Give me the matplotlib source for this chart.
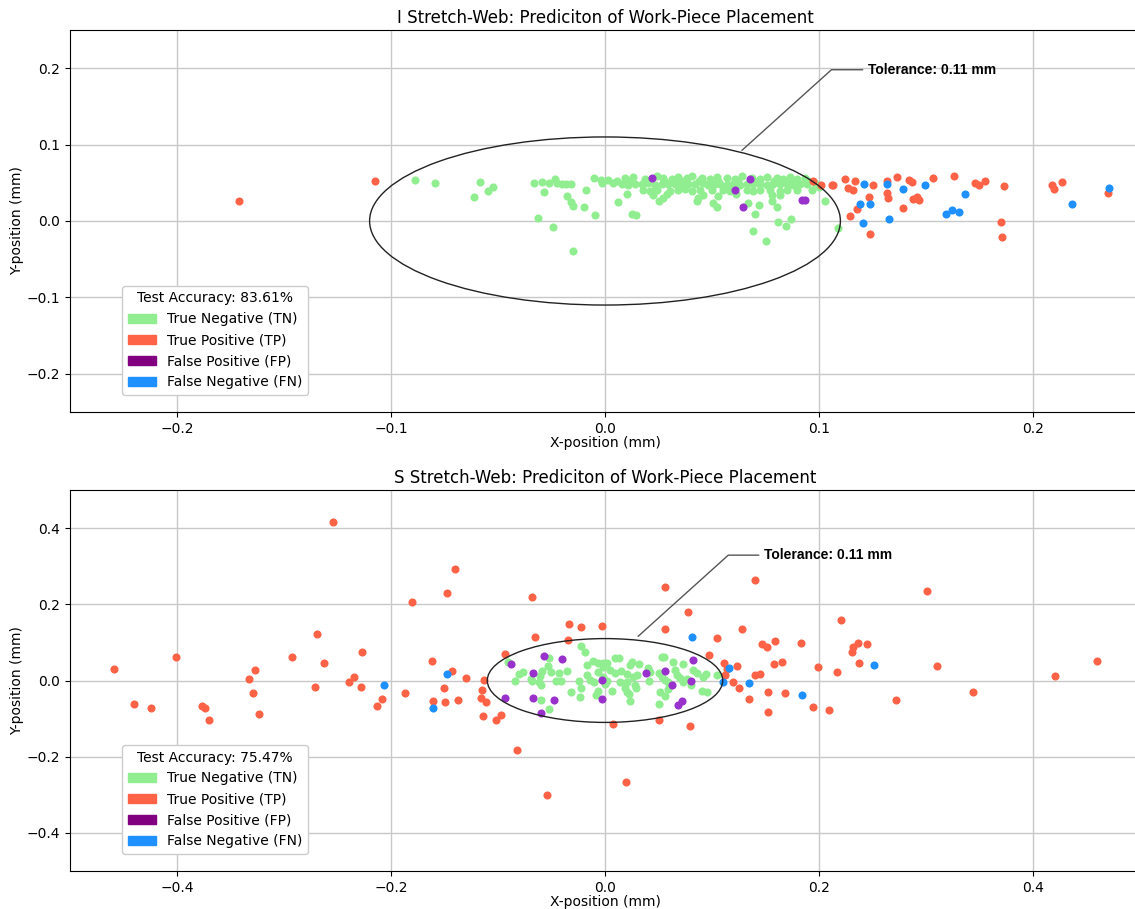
import matplotlib
matplotlib.use("Agg")
import matplotlib.pyplot as plt
from matplotlib.patches import Patch, Circle

# ---------------- I Stretch-Web ----------------
i_tn_x = [-0.0888, -0.0794, -0.0612, -0.0584, -0.0547, -0.0523, -0.0332, -0.0294, -0.0285, -0.0262,
          -0.0234, -0.0224, -0.0201, -0.0182, -0.0159, -0.0178, -0.0159, -0.0150, -0.0313, -0.0243,
          -0.0150, -0.0089, -0.0098, -0.0051, -0.0047, -0.0019, -0.0014, 0.0014, 0.0037, 0.0056,
          0.0061, 0.0103, 0.0126, 0.0145,
          0.0093, 0.0132, 0.0187, 0.0241, 0.0273, 0.0311, 0.0343, 0.0382, 0.0405, 0.0452,
          0.0491, 0.0522, 0.0569, 0.0608, 0.0639, 0.0685, 0.0724, 0.0755, 0.0802, 0.0833,
          0.0865, 0.0896, 0.0935,
          0.0078, 0.0109, 0.0140, 0.0171, 0.0202, 0.0234, 0.0265, 0.0296, 0.0327, 0.0358,
          0.0389, 0.0420, 0.0459, 0.0483, 0.0514, 0.0537, 0.0569, 0.0600, 0.0631, 0.0662,
          0.0693, 0.0724, 0.0755, 0.0787, 0.0818, 0.0849, 0.0880, 0.0911, 0.0942,
          0.0179, 0.0210, 0.0241, 0.0304, 0.0343, 0.0374, 0.0405, 0.0444, 0.0498, 0.0553,
          0.0584, 0.0662, 0.0693, 0.0724, 0.0771, 0.0818, 0.0849, 0.0896,
          0.0226, 0.0460, 0.0530, 0.0612, 0.0780, 0.0820,
          0.0110, 0.0190, 0.0280, 0.0360, 0.0440, 0.0530, 0.0620, 0.0700, 0.0790, 0.0870, 0.0950,
          0.0252, 0.0271, 0.0290, 0.0430, 0.0435, 0.0505, 0.0523, 0.0668, 0.0701, 0.0720,
          0.0692, 0.0752, 0.0780, 0.0804, 0.0808, 0.0846, 0.0869, 0.1028, 0.1089,
          0.0980, 0.1000, 0.0965]
i_tn_y = [0.0535, 0.0495, 0.0313, 0.0508, 0.0391, 0.0443, 0.0495, 0.0508, 0.0378, 0.0495,
          0.0548, 0.0495, 0.0482, 0.0482, 0.0482, 0.0326, 0.0248, 0.0196, 0.0039, -0.0078,
          -0.0391, 0.0404, 0.0183, 0.0561, 0.0078, 0.0535, 0.0495, 0.0535, 0.0495, 0.0522,
          0.0248, 0.0352, 0.0091, 0.0078,
          0.0565, 0.0578, 0.0552, 0.0583, 0.0560, 0.0548, 0.0575, 0.0557, 0.0590, 0.0562,
          0.0552, 0.0578, 0.0560, 0.0545, 0.0583, 0.0565, 0.0550, 0.0578, 0.0560, 0.0548,
          0.0570, 0.0555, 0.0562,
          0.0482, 0.0470, 0.0490, 0.0478, 0.0495, 0.0470, 0.0485, 0.0478, 0.0490, 0.0470,
          0.0485, 0.0478, 0.0492, 0.0470, 0.0482, 0.0490, 0.0475, 0.0485, 0.0470, 0.0490,
          0.0478, 0.0485, 0.0470, 0.0490, 0.0478, 0.0485, 0.0470, 0.0490, 0.0480,
          0.0404, 0.0390, 0.0412, 0.0398, 0.0404, 0.0415, 0.0395, 0.0408, 0.0400, 0.0412,
          0.0395, 0.0404, 0.0390, 0.0410, 0.0400, 0.0395, 0.0412, 0.0404,
          0.0340, 0.0345, 0.0330, 0.0350, 0.0335, 0.0342,
          0.0520, 0.0525, 0.0515, 0.0522, 0.0518, 0.0525, 0.0520, 0.0515, 0.0522, 0.0518, 0.0520,
          0.0261, 0.0300, 0.0352, 0.0261, 0.0300, 0.0235, 0.0183, 0.0235, 0.0091, 0.0209,
          -0.0130, -0.0261, 0.0261, 0.0183, -0.0013, -0.0065, 0.0026, 0.0261, -0.0091,
          0.0500, 0.0450, 0.0400]

i_tp_x = [-0.1710, -0.1075, 0.0972, 0.1009, 0.1061, 0.1065, 0.1121, 0.1168, 0.1136, 0.1159,
          0.1252, 0.1234, 0.1178, 0.1145, 0.1238, 0.1318, 0.1364, 0.1421, 0.1435, 0.1318,
          0.1322, 0.1393, 0.1439, 0.1458, 0.1467, 0.1533, 0.1631, 0.1729, 0.1748, 0.1776,
          0.1864, 0.1850, 0.1855, 0.2089, 0.2098, 0.2136, 0.2350]
i_tp_y = [0.0261, 0.0522, 0.0522, 0.0469, 0.0469, 0.0469, 0.0548, 0.0522, 0.0430, 0.0404,
          0.0469, 0.0313, 0.0156, 0.0065, -0.0169, 0.0522, 0.0574, 0.0535, 0.0508, 0.0365,
          0.0300, 0.0169, 0.0287, 0.0313, 0.0274, 0.0561, 0.0587, 0.0495, 0.0469, 0.0522,
          0.0456, -0.0013, -0.0209, 0.0469, 0.0417, 0.0508, 0.0365]

i_fp_x = [0.0218, 0.0607, 0.0643, 0.0919, 0.0935, 0.0678]
i_fp_y = [0.0565, 0.0404, 0.0183, 0.0270, 0.0270, 0.0548]

i_fn_x = [0.1210, 0.1318, 0.1393, 0.1495, 0.1192, 0.1238, 0.1206, 0.1327, 0.1682, 0.1593,
          0.1621, 0.1654, 0.2182, 0.2355]
i_fn_y = [0.0482, 0.0482, 0.0417, 0.0469, 0.0222, 0.0222, -0.0026, 0.0026, 0.0352, 0.0091,
          0.0143, 0.0117, 0.0222, 0.0430]

# ---------------- S Stretch-Web ----------------
s_tn_x = [-0.0224, -0.0187, -0.0907, -0.0523, -0.0533, -0.0505, -0.0766, -0.0804, -0.0607, -0.0589,
          -0.0430, -0.0355, -0.0692, -0.0682, -0.0841, -0.0617, -0.0598, -0.0458, -0.0411, -0.0243,
          -0.0168, -0.0112, -0.0065, -0.0019, -0.0168, -0.0140, -0.0103, -0.0065, -0.0019, 0.0019,
          -0.0224, -0.0318, -0.0234, -0.0065, -0.0084, -0.0598, -0.0523, 0.0093, 0.0131, 0.0019,
          -0.0019, 0.0252, 0.0234, 0.0318, 0.0402, 0.0421, 0.0533, 0.0551, 0.0636, 0.0729,
          0.0822, 0.0860, 0.0944, 0.0916, 0.1047, 0.0047, 0.0093, 0.0150, 0.0206, 0.0262,
          0.0299, 0.0140, 0.0206, 0.0065, 0.0187, 0.0206, 0.0224, 0.0280, 0.0290, 0.0411,
          0.0505, 0.0533, 0.0561, 0.0589, 0.0654, 0.0673, 0.0701, 0.0729, 0.0766, 0.0804,
          0.0514, 0.0589, 0.0561, 0.0234, 0.0505, 0.0907, 0.0953, 0.0000]
s_tn_y = [0.0914, 0.0757, 0.0496, 0.0601, 0.0392, 0.0235, 0.0235, 0.0183, 0.0131, 0.0261,
          0.0209, 0.0261, 0.0052, -0.0026, 0.0000, -0.0052, -0.0131, 0.0000, 0.0000, 0.0000,
          0.0418, 0.0522, 0.0470, 0.0470, 0.0157, 0.0026, -0.0052, 0.0235, 0.0104, -0.0026,
          -0.0209, -0.0313, -0.0444, -0.0287, -0.0392, -0.0522, -0.0757, 0.0601, 0.0601, 0.0470,
          0.0366, 0.0496, 0.0418, 0.0444, 0.0339, 0.0235, 0.0627, 0.0627, 0.0496, 0.0444,
          0.0287, 0.0209, 0.0183, 0.0104, 0.0157, 0.0287, 0.0209, 0.0261, 0.0183, 0.0104,
          0.0157, -0.0052, -0.0052, -0.0287, -0.0209, -0.0313, -0.0366, -0.0131, -0.0209, -0.0026,
          0.0209, 0.0104, 0.0026, -0.0052, 0.0287, 0.0157, 0.0078, -0.0052, 0.0052, -0.0131,
          -0.0313, -0.0235, -0.0418, -0.0548, -0.0627, -0.0287, -0.0313, -0.0104]

s_tp_x = [-0.2542, -0.1477, -0.1804, -0.2692, -0.4589, -0.4009, -0.2925, -0.2271, -0.2626, -0.3271,
          -0.3327, -0.2346, -0.2393, -0.1617, -0.2710, -0.2280, -0.3290, -0.1869, -0.1505, -0.4402,
          -0.4243, -0.3766, -0.3738, -0.3701, -0.3234, -0.2131, -0.2084, -0.1607, -0.1495, -0.1402,
          -0.0682, 0.0561, 0.1402, -0.0336, -0.0224, -0.0028, -0.0654, -0.0346, 0.0776, 0.0561,
          0.1047, 0.1280, 0.1467, 0.1514, -0.1430, -0.1299, -0.0935, -0.1131, -0.1150, -0.1374,
          -0.1159, -0.1112, -0.1140, -0.1019, -0.0972, 0.0972, 0.1112, 0.1234, 0.1402, 0.1449,
          0.1121, 0.1196, 0.1252, 0.1523, 0.1346, 0.1523, 0.0075, 0.0505, 0.0794, -0.0822,
          0.0196, -0.0542, 0.3009, 0.2206, 0.1589, 0.1832, 0.2318, 0.2364, 0.2449, 0.2308,
          0.1579, 0.1654, 0.2374, 0.1991, 0.2168, 0.3103, 0.4598, 0.4206, 0.1682, 0.1944,
          0.2093, 0.2720, 0.3439, 0.1137]
s_tp_y = [0.4151, 0.2298, 0.2063, 0.1227, 0.0313, 0.0627, 0.0627, 0.0757, 0.0470, 0.0287,
          0.0052, 0.0104, -0.0052, 0.0522, -0.0183, -0.0183, -0.0339, -0.0339, -0.0209, -0.0627,
          -0.0731, -0.0679, -0.0731, -0.1044, -0.0888, -0.0679, -0.0496, -0.0548, -0.0574, 0.2924,
          0.2193, 0.2454, 0.2637, 0.1488, 0.1410, 0.1436, 0.1149, 0.1070, 0.1802, 0.1358,
          0.1123, 0.1358, 0.0966, 0.0888, 0.0261, 0.0078, 0.0705, 0.0026, -0.0261, -0.0522,
          -0.0470, -0.0574, -0.0940, -0.1044, -0.0914, 0.0679, 0.0470, 0.0392, 0.0157, 0.0183,
          0.0157, -0.0052, -0.0209, -0.0313, -0.0496, -0.0836, -0.1149, -0.1044, -0.1201, -0.1828,
          -0.2663, -0.3003, 0.2350, 0.1593, 0.1044, 0.0992, 0.0888, 0.0992, 0.0966, 0.0757,
          0.0444, 0.0496, 0.0470, 0.0366, 0.0235, 0.0392, 0.0522, 0.0131, -0.0339, -0.0705,
          -0.0783, -0.0522, -0.0313, 0.0305]

s_fp_x = [-0.0570, -0.0402, -0.0879, -0.0673, -0.0935, -0.0673, -0.0477, -0.0598, -0.0028, -0.0028,
          0.0383, 0.0561, 0.0822, 0.0804, 0.0626, 0.0682, 0.0720]
s_fp_y = [0.0653, 0.0574, 0.0444, 0.0209, -0.0470, -0.0470, -0.0522, -0.0862, 0.0026, -0.0496,
          0.0209, 0.0261, 0.0548, -0.0026, -0.0131, -0.0653, -0.0548]

s_fn_x = [-0.2065, -0.1607, -0.1477, 0.0813, 0.1159, 0.1103, 0.1346, 0.1841, 0.2514]
s_fn_y = [-0.0131, -0.0731, 0.0183, 0.1149, 0.0339, -0.0052, -0.0078, -0.0392, 0.0418]

tolerance = 0.11
accuracies = ["83.61%", "75.47%"]
titles = ["I Stretch-Web: Prediciton of Work-Piece Placement",
          "S Stretch-Web: Prediciton of Work-Piece Placement"]
class_labels = ["True Negative (TN)", "True Positive (TP)",
                "False Positive (FP)", "False Negative (FN)"]
legend_colors = ["lightgreen", "tomato", "purple", "dodgerblue"]
point_colors = ["lightgreen", "tomato", "darkorchid", "dodgerblue"]

panels = [
    dict(data=[(i_tn_x, i_tn_y), (i_tp_x, i_tp_y), (i_fp_x, i_fp_y), (i_fn_x, i_fn_y)],
         lim=0.25, ticks=[-0.2, -0.1, 0.0, 0.1, 0.2], yticks=[-0.2, -0.1, 0.0, 0.1, 0.2],
         anno_xy=(0.063, 0.090), anno_text=(0.123, 0.198), xlim=0.25),
    dict(data=[(s_tn_x, s_tn_y), (s_tp_x, s_tp_y), (s_fp_x, s_fp_y), (s_fn_x, s_fn_y)],
         lim=0.5, ticks=[-0.4, -0.2, 0.0, 0.2, 0.4], yticks=[-0.4, -0.2, 0.0, 0.2, 0.4],
         anno_xy=(0.029, 0.111), anno_text=(0.149, 0.329), xlim=0.5),
]

W, H = 1135, 909
fig = plt.figure(figsize=(W / 100, H / 100), dpi=100)
ax_left = 70 / W
ax_width = (1140 - 70) / W
ax_rects = [(ax_left, 1 - 412 / H, ax_width, 382 / H),
            (ax_left, 1 - 871 / H, ax_width, 381 / H)]

for k, (panel, rect) in enumerate(zip(panels, ax_rects)):
    ax = fig.add_axes(rect)
    for (xs, ys), c in zip(panel["data"], point_colors):
        ax.scatter(xs, ys, s=34, color=c, linewidths=0, zorder=3)
    ax.add_patch(Circle((0, 0), tolerance, fill=False, edgecolor="#222222",
                        linewidth=1.0, zorder=4))
    ax.annotate(f"Tolerance: {tolerance} mm", xy=panel["anno_xy"], xytext=panel["anno_text"],
                ha="left", va="center", fontsize=10, fontweight="bold",
                family=["Liberation Sans", "DejaVu Sans"],
                arrowprops=dict(arrowstyle="-", color="#555555", linewidth=1.0,
                                connectionstyle="angle,angleA=0,angleB=42"),
                zorder=5)
    ax.set_xlim(-panel["xlim"], panel["xlim"])
    ax.set_ylim(-panel["lim"], panel["lim"])
    ax.set_xticks(panel["ticks"])
    ax.set_yticks(panel["yticks"])
    ax.grid(True, color="#c8c8c8", linewidth=1.0)
    ax.set_axisbelow(True)
    ax.tick_params(labelsize=10)
    ax.set_xlabel("X-position (mm)", fontsize=10, labelpad=0)
    ax.set_ylabel("Y-position (mm)", fontsize=10, labelpad=2)
    ax.set_title(titles[k], fontsize=12, pad=5)
    handles = [Patch(color=c, label=l) for c, l in zip(legend_colors, class_labels)]
    ax.legend(handles=handles, title=f"Test Accuracy: {accuracies[k]}",
              loc="lower left", bbox_to_anchor=(0.049, 0.045), borderaxespad=0,
              fontsize=10, title_fontsize=10, framealpha=1.0)

fig.savefig("out.png", dpi=100)
